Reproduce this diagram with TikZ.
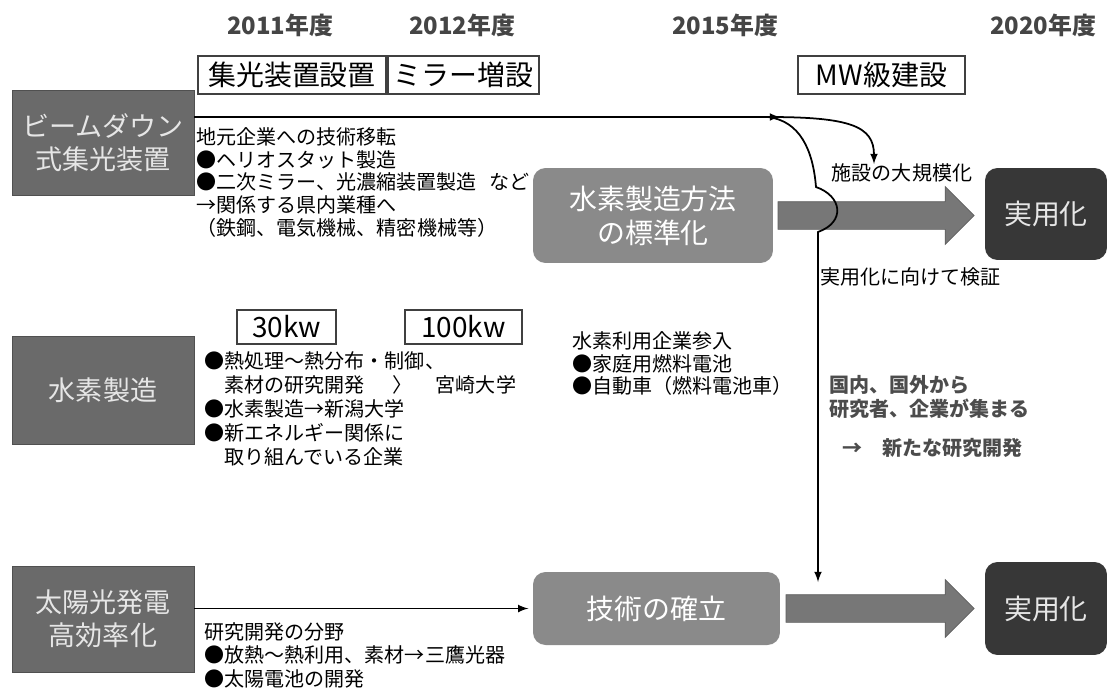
\documentclass[tikz,border=0pt]{standalone}
\usepackage{fontspec}
\setmainfont{Noto Sans CJK JP}
\usetikzlibrary{arrows.meta,positioning,shapes.arrows}
\definecolor{boxgray}{HTML}{6A6A6A}
\definecolor{stagegray}{HTML}{8A8A8A}
\definecolor{arrgray}{HTML}{777777}
\definecolor{goaldark}{HTML}{373737}
\definecolor{yeargray}{HTML}{454545}
\definecolor{labelwhite}{HTML}{E6E6E6}

\begin{document}
\begin{tikzpicture}[x=0.02cm, y=-0.02cm, thick]

	\fill[white] (0,0) rectangle (1110,687);
	\useasboundingbox (0,0) rectangle (1110,687);

	\tikzstyle{theme}=[rectangle, fill=boxgray, draw=boxgray!75!black, thin, text=labelwhite, align=center, minimum width=3.64cm, font=\fontsize{15.4}{18.5}\selectfont]
	\tikzstyle{stage}=[rectangle, rounded corners=0.25cm, fill=stagegray, text=white, align=center, font=\fontsize{15.9}{19.5}\selectfont]
	\tikzstyle{goal}=[rectangle, rounded corners=0.25cm, fill=goaldark, text=labelwhite, minimum width=2.44cm, font=\fontsize{15.9}{19}\selectfont]
	\tikzstyle{year}=[font=\bfseries\fontsize{13.6}{16}\selectfont, text=yeargray]
	\tikzstyle{plan}=[rectangle, draw=black!75, fill=white, line width=0.9pt, minimum height=0.72cm, font=\fontsize{15.9}{19}\selectfont]
	\tikzstyle{note}=[anchor=north west, align=left, inner sep=0pt, font=\fontsize{11.4}{12.9}\selectfont]
	\tikzstyle{fat}=[single arrow, fill=arrgray, draw=arrgray!80!black, thin, inner xsep=0pt, inner ysep=0.27cm, single arrow head extend=0.3cm]
	\tikzstyle{flow}=[-latex, line width=1pt]

	% years
	\node[year] (y11) at (280,25) {2011年度};
	\node[year] (y12) at (462,25) {2012年度};
	\node[year] (y15) at (725,25) {2015年度};
	\node[year] (y20) at (1043,25) {2020年度};

	% milestones
	\node[plan, minimum width=3.76cm] (p1) at (292,75) {集光装置設置};
	\node[plan, minimum width=2.82cm] (p2) at (463.5,75) {ミラー増設};
	\node[plan, minimum width=3.34cm] (p3) at (881.5,75) {MW級建設};
	\node[plan, minimum width=1.98cm, minimum height=0.64cm] (kw30) at (286.5,327) {30kw};
	\node[plan, minimum width=2.34cm, minimum height=0.64cm] (kw100) at (463.5,327) {100kw};

	% themes
	\node[theme, minimum height=2.1cm] (beam) at (103,142.5) {ビームダウン\\式集光装置};
	\node[theme, minimum height=2.16cm] (htwo) at (103,390) {水素製造};
	\node[theme, minimum height=2.12cm] (solar) at (103,619) {太陽光発電\\高効率化};

	% stages and goals
	\node[stage, minimum width=4.8cm, minimum height=1.9cm] (std) at (653,215.5) {水素製造方法\\の標準化};
	\node[stage, minimum width=4.94cm, minimum height=1.46cm] (tech) at (656.5,608.5) {技術の確立};
	\node[goal, minimum height=1.84cm] (prac1) at (1046,214) {実用化};
	\node[goal, minimum height=1.86cm] (prac2) at (1046,608.5) {実用化};
	\node[fat, minimum height=3.92cm, right=0.08cm of std] (grow1) {};
	\node[fat, minimum height=3.76cm, right=0.1cm of tech] (grow2) {};

	% notes
	\node[note] (n1) at (196,127) {地元企業への技術移転\\●ヘリオスタット製造\\●二次ミラー、光濃縮装置製造\hspace{0.25cm}など\\→関係する県内業種へ\\（鉄鋼、電気機械、精密機械等）};
	\node[note, font=\fontsize{11.4}{13.7}\selectfont] (n2) at (204,351) {●熱処理～熱分布・制御、\\　素材の研究開発\hspace{0.56cm}〉\hspace{0.46cm}宮崎大学\\●水素製造→新潟大学\\●新エネルギー関係に\\　取り組んでいる企業};
	\node[note, font=\fontsize{11.4}{13.3}\selectfont] (n3) at (204,622) {研究開発の分野\\●放熱～熱利用、素材→三鷹光器\\●太陽電池の開発};
	\node[note] (n4) at (572,331) {水素利用企業参入\\●家庭用燃料電池\\●自動車（燃料電池車）};
	\node[note, font=\bfseries\fontsize{11.4}{13.7}\selectfont, text=black!70] (n5) at (829,375) {国内、国外から\\研究者、企業が集まる};
	\node[note, font=\bfseries\fontsize{11.4}{13.7}\selectfont, text=black!70] (n6) at (842,438) {→　新たな研究開発};
	\node[note, anchor=west] (verify) at (820,277) {実用化に向けて検証};
	\node[note, anchor=center] (scale) at (902,173) {施設の大規模化};

	% links
	\coordinate (split) at (780,117);
	\coordinate (fork) at (768,117);
	\coordinate (scaletip) at (874,164);
	\coordinate (drop) at (818,582);
	\draw[flow] (beam.east |- split) -- (split);
	\draw[flow] (fork) .. controls (850,117) and (874,126) .. (scaletip);
	\draw[flow] (fork) .. controls (800,121) and (813,150) .. (816,187) .. controls (842,196) and (846,222) .. (818,232) -- (drop);
	\draw[flow, shorten >=0.08cm] (solar.east |- tech.west) -- (tech.west);

\end{tikzpicture}
\end{document}
